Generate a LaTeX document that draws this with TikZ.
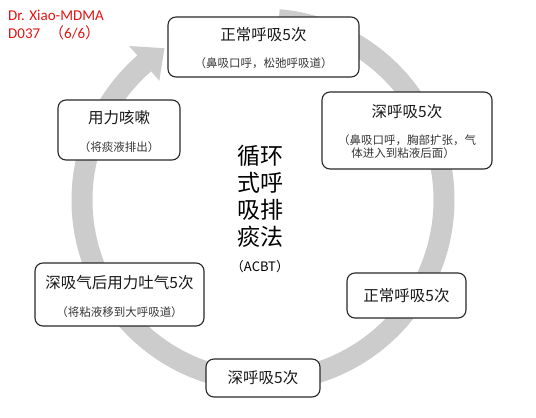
\documentclass[tikz,border=0pt]{standalone}
\usepackage{fontspec}
\setmainfont{Carlito}
\newfontfamily\cjk{Noto Sans CJK SC}
\definecolor{ringgray}{RGB}{204,204,204}
\definecolor{boxline}{RGB}{40,40,40}
\definecolor{subtxt}{RGB}{55,55,55}
\definecolor{redtxt}{RGB}{228,20,20}
\begin{document}
\begin{tikzpicture}[x=1pt,y=1pt,
  box/.style={draw=boxline, line width=1.1pt, rounded corners=8pt, fill=white, inner sep=0pt},
  ttl/.style={font=\cjk\fontsize{15.5}{18}\selectfont, text=black!90, inner sep=0pt},
  sub/.style={font=\cjk\fontsize{11.5}{13}\selectfont, text=subtxt, inner sep=0pt},
  red/.style={font=\fontsize{15}{17}\selectfont, text=redtxt, inner sep=0pt, anchor=west}]
\useasboundingbox (0,0) rectangle (536,418);
\fill[white] (0,0) rectangle (536,418);
% header
\node[red] (h1) at (8,403) {Dr. Xiao-MDMA};
\node[red] (h2) at (8,385) {D037\hspace{0.6em}{\cjk （}6/6{\cjk ）}};
% circular arrow
\begin{scope}[shift={(263,218)}]
\fill[ringgray] (85:191.5) arc[start angle=85, end angle=-229, radius=191.5]
  -- (-229:204) -- (-237:181) -- (-229:158) -- (-229:170.5)
  arc[start angle=-229, end angle=85, radius=170.5] -- cycle;
\end{scope}
% boxes
\node[box, minimum width=191pt, minimum height=60pt] (b1) at (263.5,371) {};
\node[ttl] (t1) at (263.5,383) {正常呼吸5次};
\node[sub] (s1) at (263.5,355) {（鼻吸口呼，松弛呼吸道）};
\node[box, minimum width=170pt, minimum height=77pt] (b2) at (407,287.5) {};
\node[ttl] (t2) at (407,306) {深呼吸5次};
\node[sub] (s2a) at (407,278) {（鼻吸口呼，胸部扩张，气};
\node[sub] (s2b) at (403,265) {体进入到粘液后面）};
\node[box, minimum width=122pt, minimum height=60pt] (b3) at (119,288) {};
\node[ttl] (t3) at (119,300) {用力咳嗽};
\node[sub] (s3) at (119,271) {（将痰液排出）};
\node[box, minimum width=169pt, minimum height=63pt] (b5) at (119.5,123.5) {};
\node[ttl] (t5) at (119.5,135) {深吸气后用力吐气5次};
\node[sub] (s5) at (119.5,106) {（将粘液移到大呼吸道）};
\node[box, minimum width=119pt, minimum height=45pt] (b6) at (406.5,122.5) {};
\node[ttl] (t6) at (406.5,122.5) {正常呼吸5次};
\node[box, minimum width=114pt, minimum height=38pt] (b7) at (263,40) {};
\node[ttl] (t7) at (263,40) {深呼吸5次};
% centre title
\node[font=\cjk\fontsize{23}{27}\selectfont, align=center, inner sep=0pt] (c1) at (260,222) {循环\\式呼\\吸排\\痰法};
\node[font=\cjk\fontsize{13}{15}\selectfont, inner sep=0pt] (c2) at (260,151) {（ACBT）};
\end{tikzpicture}
\end{document}
